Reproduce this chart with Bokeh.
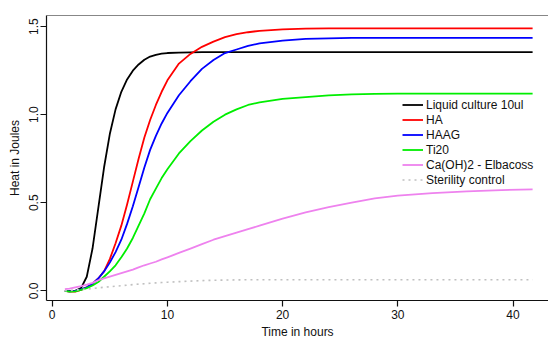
from bokeh.plotting import figure
from bokeh.models import Range1d, FixedTicker, Legend, LegendItem, Span, NumeralTickFormatter
from bokeh.embed import file_html
from bokeh.resources import INLINE

hours = [1.1, 1.5, 2, 2.5, 3, 3.5, 4, 4.5, 5, 5.5, 6, 6.5, 7, 7.5, 8, 8.5, 9, 9.5, 10,
         11, 12, 13, 14, 15, 16, 17, 18, 20, 22, 24, 26, 28, 30, 33, 36, 39, 41.7]

liquid_culture = [0, 0, 0, 0.015, 0.08, 0.24, 0.47, 0.70, 0.89, 1.03, 1.13, 1.20, 1.25, 1.285,
                  1.312, 1.33, 1.34, 1.346, 1.35, 1.352, 1.354] + [1.355] * 16
ha = [0, -0.005, -0.005, 0.005, 0.02, 0.04, 0.07, 0.11, 0.18, 0.27, 0.37, 0.49, 0.62, 0.75,
      0.87, 0.97, 1.055, 1.13, 1.195, 1.29, 1.345, 1.385, 1.415, 1.44, 1.457, 1.468, 1.476,
      1.484, 1.488] + [1.49] * 8
haag = [0, -0.003, 0, 0.008, 0.02, 0.04, 0.07, 0.11, 0.16, 0.22, 0.29, 0.38, 0.48, 0.59,
        0.70, 0.80, 0.88, 0.95, 1.01, 1.11, 1.19, 1.26, 1.31, 1.35, 1.37, 1.39, 1.405, 1.42,
        1.43, 1.433] + [1.436] * 7
ti20 = [0, -0.005, -0.003, 0.005, 0.015, 0.03, 0.05, 0.08, 0.11, 0.145, 0.19, 0.24, 0.30, 0.37,
        0.44, 0.52, 0.58, 0.64, 0.69, 0.78, 0.85, 0.91, 0.96, 1.00, 1.03, 1.055, 1.07, 1.09,
        1.10, 1.11, 1.115, 1.118] + [1.12] * 5
elbacoss = [0.01, 0.013, 0.02, 0.027, 0.035, 0.045, 0.06, 0.07, 0.08, 0.09, 0.10, 0.11, 0.12,
            0.133, 0.145, 0.155, 0.165, 0.178, 0.19, 0.215, 0.24, 0.265, 0.29, 0.31, 0.33, 0.35,
            0.37, 0.41, 0.445, 0.475, 0.50, 0.525, 0.54, 0.555, 0.565, 0.572, 0.576]
sterility = [0, 0.002, 0.005, 0.007, 0.01, 0.013, 0.017, 0.02, 0.023, 0.026, 0.029, 0.032,
             0.035, 0.038, 0.04, 0.043, 0.045, 0.047, 0.049, 0.052, 0.055, 0.058, 0.06, 0.061,
             0.062] + [0.063] * 12

series_names = ["Liquid culture 10ul", "HA", "HAAG", "Ti20", "Ca(OH)2 - Elbacoss", "Sterility control"]
series_values = [liquid_culture, ha, haag, ti20, elbacoss, sterility]
series_colors = ["black", "#ff0000", "#0000ff", "#00ee00", "#ee82ee", "#c0c0c0"]
series_dash = ["solid", "solid", "solid", "solid", "solid", "2 4"]

x_ticks = [0, 10, 20, 30, 40]
y_ticks = [0.0, 0.5, 1.0, 1.5]

FONT = "Liberation Sans"

p = figure(width=548, height=341, output_backend="svg", toolbar_location=None,
           x_range=Range1d(-0.495, 43.08), y_range=Range1d(-0.055, 1.563),
           min_border_left=46, min_border_right=0, min_border_top=15, min_border_bottom=38)
p.outline_line_color = None
p.grid.visible = False
p.background_fill_color = "white"
p.border_fill_color = "white"

items = []
for name, vals, col, dash in zip(series_names, series_values, series_colors, series_dash):
    r = p.line(hours, vals, line_color=col, line_width=1.8 if dash == "solid" else 1.6,
               line_dash=dash, line_join="round")
    items.append(LegendItem(label=name, renderers=[r]))

legend = Legend(items=items, location=(356, 113), background_fill_alpha=0,
                border_line_color=None, padding=0, margin=0, spacing=0,
                label_height=15, glyph_height=15, glyph_width=21, label_standoff=3,
                label_text_font=FONT, label_text_font_size="12px", label_text_color="#111111")
p.add_layout(legend)

p.add_layout(Span(location=1.563, dimension="width", line_color="#111111", line_width=1.2))

for ax in (p.xaxis[0], p.yaxis[0]):
    ax.axis_line_color = "#111111"
    ax.axis_line_width = 1.2
    ax.major_tick_line_color = "#111111"
    ax.major_tick_line_width = 1.2
    ax.major_tick_out = 6
    ax.major_tick_in = 0
    ax.minor_tick_line_color = None
    ax.major_label_text_font = FONT
    ax.major_label_text_font_size = "12px"
    ax.major_label_text_color = "#111111"
    ax.axis_label_text_font = FONT
    ax.axis_label_text_font_size = "12px"
    ax.axis_label_text_font_style = "normal"
    ax.axis_label_text_color = "#111111"

p.xaxis.ticker = FixedTicker(ticks=x_ticks)
p.yaxis.ticker = FixedTicker(ticks=y_ticks)
p.yaxis.formatter = NumeralTickFormatter(format="0.0")
p.yaxis.major_label_orientation = "vertical"
p.xaxis.axis_label = "Time in hours"
p.yaxis.axis_label = "Heat in Joules"
p.xaxis.major_label_standoff = 3
p.xaxis.axis_label_standoff = 3
p.yaxis.major_label_standoff = 2
p.yaxis.axis_label_standoff = 5

open("out.html", "w").write(file_html(p, INLINE))
